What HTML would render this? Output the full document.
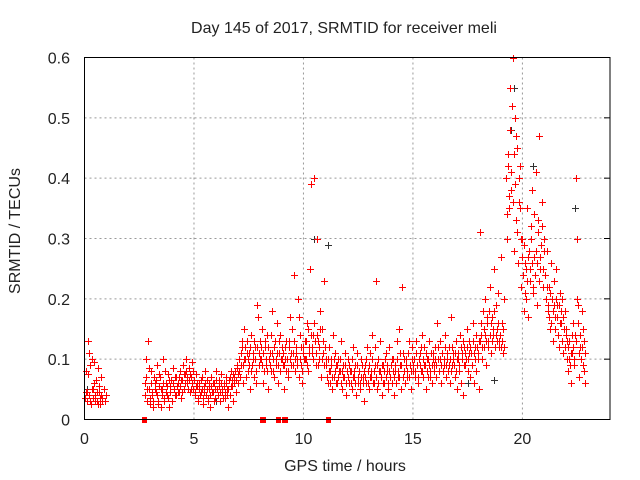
<!DOCTYPE html>
<html><head><meta charset="utf-8"><style>
html,body{margin:0;padding:0;background:#fff;}
svg{display:block;font-family:"Liberation Sans",sans-serif;}
</style></head><body>
<svg id="chart" width="640" height="480" viewBox="0 0 640 480" xmlns="http://www.w3.org/2000/svg">
<rect x="0" y="0" width="640" height="480" fill="#fff"/>
<text x="344" y="33" font-size="16" text-anchor="middle" fill="#222">Day 145 of 2017, SRMTID for receiver meli</text>
<text x="0" y="0" font-size="16" text-anchor="middle" fill="#222" transform="translate(20,231) rotate(-90)">SRMTID / TECUs</text>
<text x="345" y="471" font-size="16" text-anchor="middle" fill="#222">GPS time / hours</text>
<g id="grid"></g>
<g id="ticks"></g>
<g id="marks" shape-rendering="crispEdges"></g>
<rect x="84.5" y="57.5" width="525.5" height="362" fill="none" stroke="#000" stroke-width="1"/>
</svg>
<script>
const xTicks = [0, 5, 10, 15, 20];
const yTicks = [0, 0.1, 0.2, 0.3, 0.4, 0.5, 0.6];
const yTickLabels = ["0", "0.1", "0.2", "0.3", "0.4", "0.5", "0.6"];
const segStarts = [0.02, 2.75, 7.05, 8.05, 10.05, 11.05, 15.05, 18.05, 19.25, 19.95, 21.05, 22.05];
const segVals0 = [.035,.08,.045,.13,.11,.03,.1,.05,.095,.04,.065,.03,.085,.045,.025,.07,.035,.05,.03,.04];
const segVals1 = [.06,.1,.03,.13,.05,.025,.08,.04,.02,.06,.045,.09,.03,.055,.07,.02,.05,.1,.035,.06,
 .04,.075,.02,.055,.065,.03,.085,.05,.04,.07,.06,.045,.08,.035,.065,.09,.05,.075,.1,.06,
 .085,.045,.07,.095,.05,.065,.04,.075,.055,.03,.06,.045,.07,.025,.055,.08,.04,.065,.035,.05,
 .02,.07,.045,.06,.035,.08,.05,.04,.065,.03,.075,.045,.06,.035,.07,.05,.02,.065,.04,.08,
 .055,.03,.07,.045,.085,.06];
const segVals2 = [.1,.07,.09,.12,.06,.15,.1,.13,.08,.11,.05,.14,.09,.1,.07,.12,.06,.19,.09,.13];
const segVals3 = [.1,.15,.06,.08,.12,.09,.14,.05,.11,.08,.18,.1,.07,.13,.09,.16,.06,.11,.14,.1,
 .09,.05,.12,.08,.1,.07,.13,.17,.09,.11,.24,.08,.12,.1,.2,.07,.14,.09,.06,.12];
const segVals4 = [.13,.1,.16,.08,.12,.25,.39,.11,.14,.4,.09,.3,.13,.1,.18,.07,.15,.11,.23,.12];
const segVals5 = [.09,.06,.12,.08,.1,.05,.14,.07,.11,.09,.06,.1,.08,.13,.05,.09,.07,.11,.04,.08,
 .1,.06,.08,.05,.12,.07,.09,.04,.11,.06,.08,.05,.1,.07,.03,.09,.06,.12,.08,.05,
 .11,.07,.14,.06,.09,.23,.05,.1,.08,.13,.07,.04,.09,.06,.11,.08,.05,.12,.07,.09,
 .06,.1,.04,.08,.13,.07,.15,.09,.05,.22,.11,.08,.06,.1,.07,.13,.09,.05,.12,.08];
const segVals6 = [.1,.07,.13,.09,.06,.11,.08,.14,.07,.12,.09,.05,.1,.07,.13,.08,.06,.11,.09,.12,
 .07,.16,.1,.08,.13,.06,.11,.09,.14,.07,.1,.08,.12,.06,.17,.09,.11,.07,.13,.05,
 .1,.08,.14,.06,.11,.04,.12,.09,.15,.08,.13,.07,.11,.09,.16,.06,.12,.08,.1,.05];
const segVals7 = [.31,.14,.1,.18,.12,.2,.09,.16,.13,.22,.11,.17,.14,.25,.12,.19,.15,.21,.13,.27,.16,.11,.2];
const segVals8 = [.4,.3,.44,.35,.55,.38,.6,.28,.5,.33,.45,.26,.36,.42];
const segVals9 = [.22,.3,.18,.26,.2,.35,.17,.28,.23,.32,.38,.21,.27,.41,.19,.33,.47,.25,.29,.36,.22,.3];
const segVals10 = [.24,.28,.18,.22,.15,.26,.2,.13,.23,.17,.25,.19,.12,.21,.16,.2,.11,.15,.18,.14];
const segVals11 = [.1,.08,.13,.06,.11,.16,.09,.14,.4,.3,.19,.07,.12,.18,.09,.13,.06];
// second pass (denser clusters), offset by half a step
const extraStarts = [0.05, 2.775, 7.075, 8.075, 10.075, 11.075, 15.075, 18.075, 19.275, 19.975, 21.075, 22.075];
const extraVals0 = [.045,.03,.075,.04,.09,.025,.05,.035,.06,.03,.045,.025,.055,.035,.04,.03];
const extraVals1 = [.04,.07,.05,.085,.035,.06,.045,.03,.07,.05,.065,.04,.025,.075,.05,.04,.06,.03,.08,.045,
 .055,.035,.065,.045,.03,.06,.05,.07,.04,.055,.045,.07,.055,.065,.045,.075,.06,.08,.07,.05,
 .065,.075,.05,.06,.08,.045,.055,.06,.035,.05,.04,.065,.05,.035,.045,.06,.05,.03,.06,.04,
 .055,.045,.06,.03,.05,.065,.04,.055,.045,.06,.05,.035,.055,.045,.06,.04,.05,.07,.055,.065,
 .075,.06,.08,.065,.09,.075];
const extraVals2 = [.08,.11,.13,.09,.1,.12,.07,.11,.1,.09,.12,.08,.11,.13,.1,.08,.12,.17,.11,.1];
const extraVals3 = [.12,.09,.11,.13,.1,.08,.12,.1,.09,.14,.11,.08,.12,.1,.11,.09,.13,.08,.1,.12,
 .11,.09,.1,.13,.08,.12,.1,.11,.15,.09,.13,.1,.11,.09,.17,.1,.12,.08,.11,.1];
const extraVals4 = [.1,.13,.09,.15,.11,.14,.12,.1,.16,.13,.11,.14,.09,.12,.15,.1,.13,.09,.12,.1];
const extraVals5 = [.07,.1,.08,.06,.09,.07,.1,.08,.06,.09,.07,.08,.1,.06,.08,.07,.09,.06,.08,.07,
 .09,.08,.06,.1,.07,.08,.06,.09,.07,.08,.06,.07,.09,.06,.08,.07,.1,.06,.09,.07,
 .08,.1,.06,.08,.12,.07,.09,.06,.08,.07,.09,.06,.08,.1,.07,.09,.06,.08,.07,.1,
 .08,.07,.09,.06,.1,.08,.07,.11,.09,.07,.1,.06,.09,.08,.11,.07,.09,.08,.1,.09];
const extraVals6 = [.08,.11,.09,.07,.1,.09,.12,.08,.1,.09,.11,.08,.1,.09,.07,.11,.09,.1,.08,.1,
 .09,.12,.08,.1,.09,.11,.08,.1,.12,.09,.11,.09,.1,.08,.12,.1,.09,.11,.08,.1,
 .11,.09,.12,.1,.13,.09,.11,.1,.12,.1,.11,.12,.09,.13,.11,.1,.14,.12,.11,.13];
const extraVals7 = [.13,.16,.12,.15,.14,.13,.17,.12,.18,.14,.16,.13,.15,.18,.14,.13,.16,.12,.14,.12,.13,.15,.12];
const extraVals8 = [.34,.42,.37,.48,.41,.52,.36,.44,.39,.47,.31,.4,.35,.3];
const extraVals9 = [.27,.24,.29,.21,.25,.23,.27,.25,.3,.26,.22,.34,.24,.28,.26,.31,.23,.27,.32,.25,.28,.24];
const extraVals10 = [.2,.22,.19,.17,.21,.16,.18,.19,.15,.2,.17,.14,.19,.16,.18,.13,.17,.12,.15,.13];
const extraVals11 = [.12,.1,.09,.11,.14,.12,.1,.13,.2,.16,.11,.14,.1,.12,.15,.08,.11];
const segStep = 0.05;
const grayT = [0.1, 6.0, 10.5, 11.1, 17.5, 18.7, 19.5, 19.6, 20.5, 22.4];
const grayV = [0.05, 0.03, 0.3, 0.29, 0.06, 0.065, 0.48, 0.55, 0.42, 0.35];
const zeroT = [2.7, 8.1, 8.15, 8.85, 9.1, 9.15, 11.1];

const X0 = 84.5, X1 = 610, Y0 = 419.5, Y1 = 57.5;
const xMax = 24, yMax = 0.6;
function sx(t){ return X0 + t / xMax * (X1 - X0); }
function sy(v){ return Y0 - v / yMax * (Y0 - Y1); }
const NS = "http://www.w3.org/2000/svg";
const grid = document.getElementById('grid');
const ticks = document.getElementById('ticks');
const marks = document.getElementById('marks');

xTicks.forEach(t => {
  if (t > 0) {
    const l = document.createElementNS(NS, 'line');
    
    
    l.setAttribute('x1', sx(t)); l.setAttribute('x2', sx(t));
    l.setAttribute('y1', Y0); l.setAttribute('y2', Y1);
    l.setAttribute('stroke', '#999'); l.setAttribute('stroke-dasharray', '2,3');
    grid.appendChild(l);
  }
  const tx = document.createElementNS(NS, 'text');
  
  
  tx.setAttribute('x', sx(t)); tx.setAttribute('y', 444);
  tx.setAttribute('font-size', '16'); tx.setAttribute('text-anchor', 'middle'); tx.setAttribute('fill', '#222');
  tx.textContent = String(t);
  ticks.appendChild(tx);
});
yTicks.forEach((v, i) => {
  if (v > 0 && v < yMax) {
    const l = document.createElementNS(NS, 'line');
    
    
    l.setAttribute('x1', X0); l.setAttribute('x2', X1);
    l.setAttribute('y1', sy(v)); l.setAttribute('y2', sy(v));
    l.setAttribute('stroke', '#999'); l.setAttribute('stroke-dasharray', '2,3');
    grid.appendChild(l);
    const r = document.createElementNS(NS, 'line');
    
    
    r.setAttribute('x1', X1 - 6); r.setAttribute('x2', X1);
    r.setAttribute('y1', sy(v)); r.setAttribute('y2', sy(v));
    r.setAttribute('stroke', '#000');
    grid.appendChild(r);
  }
  const tx = document.createElementNS(NS, 'text');
  
  
  tx.setAttribute('x', 70); tx.setAttribute('y', sy(v) + 6);
  tx.setAttribute('font-size', '16'); tx.setAttribute('text-anchor', 'end'); tx.setAttribute('fill', '#222');
  tx.textContent = yTickLabels[i];
  ticks.appendChild(tx);
});

function plus(t, v, color, name){
  const g = document.createElementNS(NS, 'g');
  
  
  const x = Math.round(sx(t)), y = Math.round(sy(v));
  const h = document.createElementNS(NS, 'rect');
  h.setAttribute('x', x - 3); h.setAttribute('y', y);
  h.setAttribute('width', 7); h.setAttribute('height', 1);
  h.setAttribute('fill', color);
  const vr = document.createElementNS(NS, 'rect');
  vr.setAttribute('x', x); vr.setAttribute('y', y - 3);
  vr.setAttribute('width', 1); vr.setAttribute('height', 7);
  vr.setAttribute('fill', color);
  g.appendChild(h); g.appendChild(vr);
  marks.appendChild(g);
}
grayT.forEach((t, i) => plus(t, grayV[i], '#333333', 'gray-point'));
const segVals = [segVals0, segVals1, segVals2, segVals3, segVals4, segVals5, segVals6, segVals7, segVals8, segVals9, segVals10, segVals11];
const extraVals = [extraVals0, extraVals1, extraVals2, extraVals3, extraVals4, extraVals5, extraVals6, extraVals7, extraVals8, extraVals9, extraVals10, extraVals11];
extraVals.forEach((vals, s) => {
  vals.forEach((v, i) => plus(extraStarts[s] + i * segStep, v, '#ff0000', 'red-point'));
});
segVals.forEach((vals, s) => {
  vals.forEach((v, i) => plus(segStarts[s] + i * segStep, v, '#ff0000', 'red-point'));
});
zeroT.forEach(t => {
  const r = document.createElementNS(NS, 'rect');
  
  
  r.setAttribute('x', Math.round(sx(t)) - 2); r.setAttribute('y', Math.round(Y0) - 3);
  r.setAttribute('width', 5); r.setAttribute('height', 6);
  r.setAttribute('fill', '#ff0000');
  marks.appendChild(r);
});
</script>
</body></html>
